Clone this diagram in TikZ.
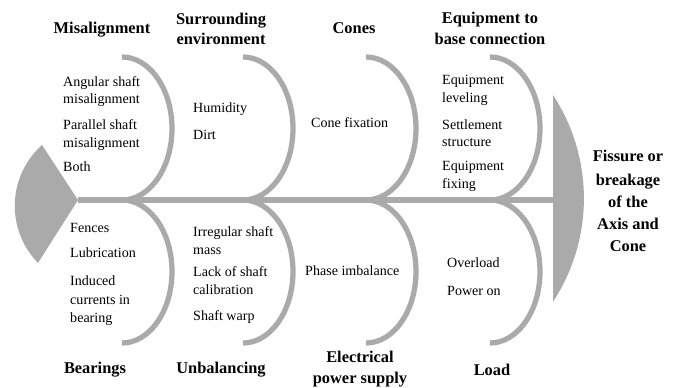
\documentclass[tikz,border=0pt]{standalone}
\usepackage{fontspec}
\setmainfont{Liberation Serif}
\usetikzlibrary{calc}
\definecolor{bonegray}{RGB}{170,170,170}

\tikzset{
  bone/.style={line width=4.5pt, bonegray},
  cause/.style={font=\bfseries\fontsize{14}{17}\selectfont, anchor=base, inner sep=0pt},
  item/.style={font=\fontsize{12}{14}\selectfont, anchor=base west, inner sep=0pt},
}

\begin{document}
\begin{tikzpicture}[x=0.03cm, y=0.03cm]
 \useasboundingbox (0,0) rectangle (678,387);

 %spine
 \coordinate (tail) at (78,187);
 \coordinate (head) at (553,187);
 \draw[bone] (tail) -- (head);

 %tail
 \fill[bonegray] (tail) -- (42,242) arc[start angle=131.8, end angle=224.3, radius=81.7] -- cycle;

 %head
 \fill[bonegray] (553,292) arc[start angle=33.3, end angle=-33.3, radius=188.3] -- cycle;

 %arcs
 \foreach \i/\dx in {1/122, 2/243, 3/366, 4/490} {
   \draw[bone] (\dx,330) arc[start angle=90, end angle=-90, x radius=50, y radius=71.5];
   \draw[bone] (\dx,187) arc[start angle=90, end angle=-90, x radius=50, y radius=71.5];
 }

 %level 1 (top)
 \node[cause] (mis) at (102,353) {Misalignment};
 \node[cause] (sur1) at (221,362) {Surrounding};
 \node[cause] (sur2) at (221,342) {environment};
 \node[cause] (con) at (354,353) {Cones};
 \node[cause] (equ1) at (490,363) {Equipment to};
 \node[cause] (equ2) at (490,342) {base connection};

 %level 2 (bottom)
 \node[cause] (bea) at (95,14) {Bearings};
 \node[cause] (unb) at (221,14) {Unbalancing};
 \node[cause] (ele1) at (360,25) {Electrical};
 \node[cause] (ele2) at (360,4) {power supply};
 \node[cause] (loa) at (492,12) {Load};

 %effect
 \foreach \k/\y/\txt in {1/225/Fissure or, 2/202/breakage, 3/180/of the, 4/158/Axis and, 5/136/Cone} {
   \node[cause] (eff\k) at (628,\y) {\txt};
 }

 %1
 \def\dx{63}
 \foreach \k/\y/\txt in {1/300.5/Angular shaft, 2/283.5/misalignment, 3/257.5/Parallel shaft, 4/239.5/misalignment, 5/215.5/Both} {
   \node[item] (mis\k) at (\dx,\y) {\txt};
 }

 %2
 \def\dx{193}
 \foreach \k/\y/\txt in {1/274/Humidity, 2/247/Dirt} {
   \node[item] (sur\k) at (\dx,\y) {\txt};
 }

 %3
 \node[item] (con1) at (311,259) {Cone fixation};

 %4
 \def\dx{442}
 \foreach \k/\y/\txt in {1/302.5/Equipment, 2/284.5/leveling, 3/257.5/Settlement, 4/240.5/structure, 5/216.5/Equipment, 6/198.5/fixing} {
   \node[item] (equ\k) at (\dx,\y) {\txt};
 }

 %5
 \def\dx{70}
 \foreach \k/\y/\txt in {1/154.5/Fences, 2/129.5/Lubrication, 3/101.5/Induced, 4/82.5/currents in, 5/64.5/bearing} {
   \node[item] (bea\k) at (\dx,\y) {\txt};
 }

 %6
 \def\dx{193}
 \foreach \k/\y/\txt in {1/150.5/Irregular shaft, 2/132.5/mass, 3/110.5/Lack of shaft, 4/92.5/calibration, 5/66.5/Shaft warp} {
   \node[item] (unb\k) at (\dx,\y) {\txt};
 }

 %7
 \node[item] (ele1) at (305,111.5) {Phase imbalance};

 %8
 \def\dx{447}
 \foreach \k/\y/\txt in {1/119.5/Overload, 2/91.5/Power on} {
   \node[item] (loa\k) at (\dx,\y) {\txt};
 }

\end{tikzpicture}
\end{document}
